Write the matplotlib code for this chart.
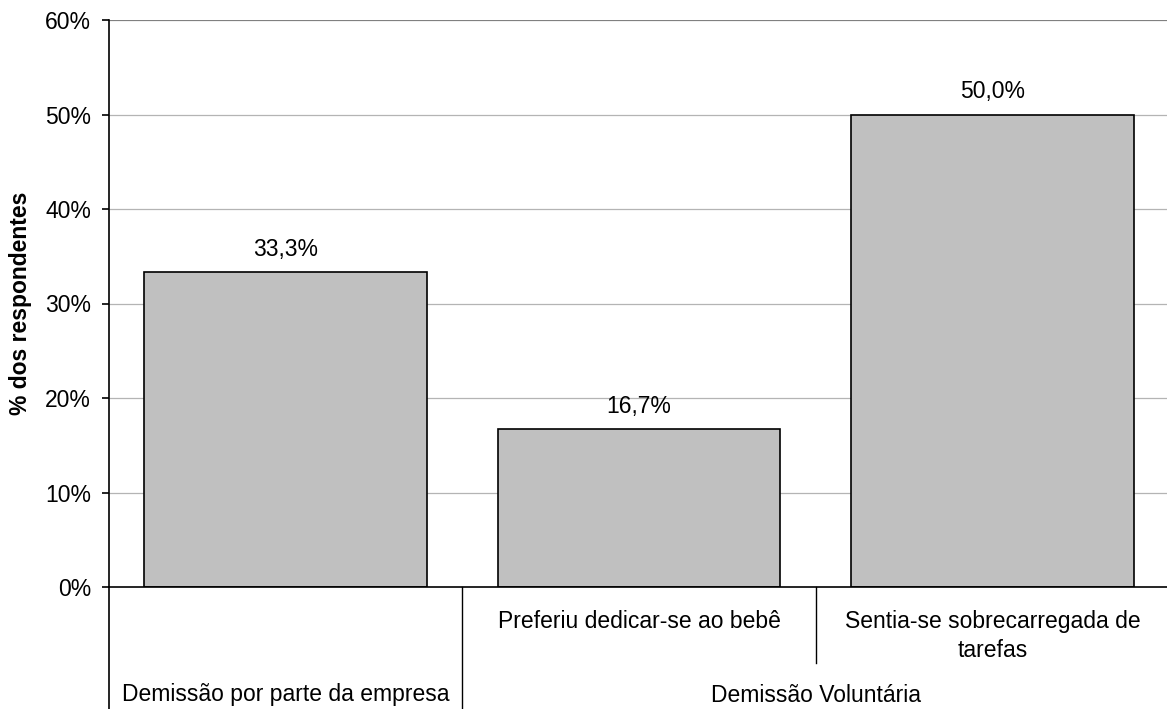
import matplotlib
matplotlib.use("Agg")
import matplotlib.pyplot as plt
from matplotlib.lines import Line2D

plt.rcParams['font.family'] = ['Liberation Sans', 'DejaVu Sans']

# Data
categories = ["Preferiu dedicar-se ao bebê", "Sentia-se sobrecarregada de\ntarefas"]
groups = ["Demissão por parte da empresa", "Demissão Voluntária"]
values = [33.3, 16.7, 50.0]
value_labels = ["33,3%", "16,7%", "50,0%"]
yticks = [0, 10, 20, 30, 40, 50, 60]
ytick_labels = ["0%", "10%", "20%", "30%", "40%", "50%", "60%"]
ylabel = "% dos respondentes"

W, H = 1167, 709
fig = plt.figure(figsize=(W / 100, H / 100), dpi=100)

# axes placement in pixels
x0, x1 = 109, 1169
y_top, y_zero = 20, 587
ax = fig.add_axes([x0 / W, (H - y_zero) / H, (x1 - x0) / W, (y_zero - y_top) / H])

fs = 16.5
xpos = list(range(len(values)))
ax.set_xlim(-0.5, len(values) - 0.5)
ax.set_ylim(0, 60)

# gridlines
for t in yticks[1:]:
    col = '#808080' if t == 60 else '#b4b4b4'
    lw = 1.6 if t == 60 else 0.9
    ax.axhline(t, color=col, lw=lw, zorder=0)

ax.bar(xpos, values, width=0.8, color='#c0c0c0', edgecolor='black', linewidth=1.2, zorder=2)
for x, v, lab in zip(xpos, values, value_labels):
    ax.annotate(lab, (x, v), xytext=(0, 8), textcoords='offset points',
                ha='center', va='bottom', fontsize=fs)

for side in ['top', 'right']:
    ax.spines[side].set_visible(False)
ax.spines['left'].set_linewidth(1.2)
ax.spines['bottom'].set_linewidth(1.2)
ax.set_xticks([])
ax.set_yticks(yticks)
ax.set_yticklabels(ytick_labels, fontsize=fs)
ax.tick_params(axis='y', length=5, width=1.2, pad=8)
ax.set_ylabel(ylabel, fontsize=fs, fontweight='bold', labelpad=9)


def fy(py):
    return (H - py) / H


def fx(px):
    return px / W


# multi-level category axis
cat_w = (x1 - x0) / len(values)
fig.add_artist(Line2D([fx(x0), fx(x0)], [fy(y_zero), fy(H + 2)], color='black', lw=1.2))
fig.add_artist(Line2D([fx(x0 + cat_w), fx(x0 + cat_w)], [fy(y_zero), fy(H + 2)], color='black', lw=1.0))
fig.add_artist(Line2D([fx(x0 + 2 * cat_w), fx(x0 + 2 * cat_w)], [fy(y_zero), fy(663)], color='black', lw=1.0))

fig.text(fx(x0 + 1.5 * cat_w), fy(621), categories[0], ha='center', va='center', fontsize=fs)
fig.text(fx(x0 + 2.5 * cat_w), fy(636), categories[1], ha='center', va='center', fontsize=fs,
         linespacing=1.35, multialignment='center')
fig.text(fx(x0 + 0.5 * cat_w), fy(695), groups[0], ha='center', va='center', fontsize=fs)
fig.text(fx(x0 + 2.0 * cat_w), fy(695), groups[1], ha='center', va='center', fontsize=fs)

fig.savefig("out.png", dpi=100)
